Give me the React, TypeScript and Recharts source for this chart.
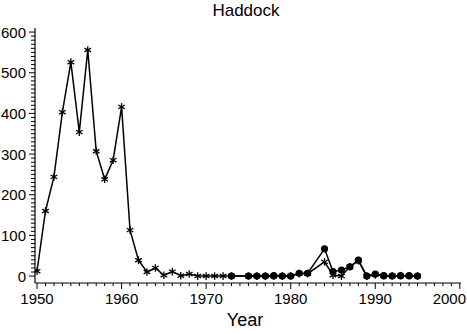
import React from "react";
import { LineChart, Line, XAxis, YAxis } from "recharts";

const starYears = [1950,1951,1952,1953,1954,1955,1956,1957,1958,1959,1960,1961,1962,1963,1964,1965,1966,1967,1968,1969,1970,1971,1972,1973,1975,1976,1977,1978,1979,1980,1981,1982,1984,1985,1986,1987,1988,1989,1990,1991,1992,1993,1994,1995];
const starValues = [12,160,244,403,526,354,556,307,238,285,416,113,39,10,20,2,11,1,5,0,0,0,0,0,0,0,0,0,0,0,6,6,35,2,0,23,38,0,3,1,1,1,1,0];

const circleYears = [1973,1975,1976,1977,1978,1979,1980,1981,1982,1984,1985,1986,1987,1988,1989,1990,1991,1992,1993,1994,1995];
const circleValues = [0,0,0,0,1,0,0,7,7,67,11,15,23,39,0,5,1,0,1,1,0];

const xTicks = [1950,1951,1952,1953,1954,1955,1956,1957,1958,1959,1960,1961,1962,1963,1964,1965,1966,1967,1968,1969,1970,1971,1972,1973,1974,1975,1976,1977,1978,1979,1980,1981,1982,1983,1984,1985,1986,1987,1988,1989,1990,1991,1992,1993,1994,1995,1996,1997,1998,1999,2000];
const yTicks = [0,10,20,30,40,50,60,70,80,90,100,110,120,130,140,150,160,170,180,190,200,210,220,230,240,250,260,270,280,290,300,310,320,330,340,350,360,370,380,390,400,410,420,430,440,450,460,470,480,490,500,510,520,530,540,550,560,570,580,590,600];

const starData = starYears.map((year, i) => ({ year, value: starValues[i] }));
const circleData = circleYears.map((year, i) => ({ year, value: circleValues[i] }));

const FONT = "'Liberation Sans', Arial, sans-serif";

const StarDot = (props: any) => {
  const { cx, cy } = props;
  if (cx == null || cy == null) return null;
  const r = 3.8;
  const dx = r * 0.87;
  const dy = r * 0.5;
  return (
    <g stroke="#000" strokeWidth={1.3}>
      <line x1={cx} y1={cy - r} x2={cx} y2={cy + r} />
      <line x1={cx - dx} y1={cy - dy} x2={cx + dx} y2={cy + dy} />
      <line x1={cx - dx} y1={cy + dy} x2={cx + dx} y2={cy - dy} />
    </g>
  );
};

const CircleDot = (props: any) => {
  const { cx, cy } = props;
  if (cx == null || cy == null) return null;
  return <circle cx={cx} cy={cy} r={3.6} fill="#000" stroke="none" />;
};

const XTick = (props: any) => {
  const { x, y, payload } = props;
  const v = payload.value;
  const major = v % 10 === 0;
  const last = v === 2000;
  return (
    <g>
      <line x1={x} y1={y} x2={x} y2={y + (major ? 6 : 3)} stroke="#000" strokeWidth={1} />
      {major && (
        <text x={last ? 466 : x} y={y + 15} textAnchor={last ? "end" : "middle"} dominantBaseline="central" fontSize={15} fontFamily={FONT} fill="#000">
          {v}
        </text>
      )}
    </g>
  );
};

const YTick = (props: any) => {
  const { x, y, payload } = props;
  const v = payload.value;
  const major = v % 100 === 0;
  return (
    <g>
      <line x1={x} y1={y} x2={x - (major ? 6 : 4)} y2={y} stroke="#000" strokeWidth={1} />
      {major && (
        <text x={x - 9} y={y} textAnchor="end" dominantBaseline="central" fontSize={15} fontFamily={FONT} fill="#000">
          {v}
        </text>
      )}
    </g>
  );
};

export default function App() {
  return (
    <div style={{ position: "absolute", left: 0, top: 0, width: 467, height: 334, background: "#fff" }}>
      <div style={{ position: "absolute", left: 0, width: 492, top: 1, textAlign: "center", fontFamily: FONT, fontSize: 17 }}>
        Haddock
      </div>
      <LineChart width={467} height={334} margin={{ top: 28, right: 6, left: 0, bottom: 0 }}>
        <XAxis
          dataKey="year"
          type="number"
          domain={[1949.76, 2000.14]}
          ticks={xTicks}
          interval={0}
          allowDataOverflow
          height={51}
          tickSize={0}
          tickMargin={0}
          tickLine={false}
          tick={<XTick />}
          axisLine={{ stroke: "#000", strokeWidth: 1.2 }}
        />
        <YAxis
          type="number"
          domain={[-17, 610]}
          ticks={yTicks}
          interval={0}
          allowDataOverflow
          width={35}
          tickSize={0}
          tickMargin={0}
          tickLine={false}
          tick={<YTick />}
          axisLine={{ stroke: "#000", strokeWidth: 1.2 }}
        />
        <Line data={starData} dataKey="value" stroke="#000" strokeWidth={1.5} dot={<StarDot />} activeDot={false} isAnimationActive={false} />
        <Line data={circleData} dataKey="value" stroke="#000" strokeWidth={1.5} dot={<CircleDot />} activeDot={false} isAnimationActive={false} />
      </LineChart>
      <div style={{ position: "absolute", left: 0, width: 490, top: 310, textAlign: "center", fontFamily: FONT, fontSize: 18 }}>
        Year
      </div>
    </div>
  );
}
